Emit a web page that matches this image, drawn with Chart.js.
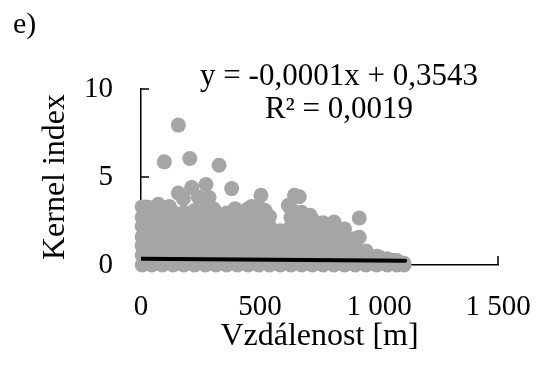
<!DOCTYPE html>
<html lang="cs">
<head>
    <meta charset="UTF-8">
    <title>Kernel index</title>
    <script src="https://cdn.jsdelivr.net/npm/chart.js"></script>
    <style>
        html, body { margin: 0; padding: 0; background: #fff; }
        #wrap { width: 539px; height: 365px; }
    </style>
</head>
<body>
<div id="wrap"><canvas id="kernelChart" width="539" height="365"></canvas></div>

<script>
    // odlehlé body (vzdálenost v m, kernel index)
    const outlierX = [157, 98, 205, 328, 381, 273, 213, 157, 286, 24, 73, 119, 178, 241, 304, 395, 465, 504, 521, 619, 645, 665, 710, 811, 917, 917, 885, 941, 1001, 1060, 717, 570];
    const outlierY = [7.95, 5.86, 6.05, 5.67, 4.34, 4.57, 4.4, 4.09, 3.83, 3.3, 3.45, 3.33, 3.77, 3.86, 3.2, 3.2, 3.33, 3.96, 3.1, 3.39, 3.96, 3.88, 2.82, 2.44, 2.67, 1.58, 1.3, 0.73, 0.45, 0.26, 1.97, 1.87];

    // husté mračno bodů u nuly - sloupce podle vzdálenosti
    const cloudX = [5, 45, 90, 135, 180, 225, 270, 315, 360, 405, 450, 495, 540, 585, 630, 675, 720, 765, 810, 855, 900, 945, 990, 1035, 1075, 1105];
    const cloudY = [
        [0, 0.55, 1.1, 1.6, 2.2, 2.7, 3.3],
        [0, 0.55, 1.1, 1.65, 2.2, 2.75, 3.25],
        [0, 0.5, 1.1, 1.6, 2.2, 2.7, 3.2],
        [0, 0.55, 1.1, 1.65, 2.2, 2.7, 3.0],
        [0, 0.55, 1.1, 1.6, 2.15, 2.7, 3.0],
        [0, 0.5, 1.05, 1.6, 2.2, 2.75, 3.1],
        [0, 0.55, 1.1, 1.65, 2.2, 2.7, 3.15],
        [0, 0.55, 1.1, 1.6, 2.2, 2.7, 3.0],
        [0, 0.55, 1.1, 1.65, 2.2, 2.65, 2.95],
        [0, 0.5, 1.1, 1.6, 2.15, 2.7, 3.1],
        [0, 0.55, 1.1, 1.65, 2.2, 2.7, 3.2],
        [0, 0.55, 1.1, 1.6, 2.2, 2.75, 3.3],
        [0, 0.55, 1.1, 1.6, 2.2, 2.75],
        [0, 0.55, 1.1, 1.6, 1.95],
        [0, 0.55, 1.1, 1.65, 2.2, 2.7, 3.2],
        [0, 0.55, 1.1, 1.6, 2.15, 2.7, 3.0],
        [0, 0.55, 1.1, 1.65, 2.2, 2.6],
        [0, 0.5, 1.05, 1.6, 2.1, 2.4],
        [0, 0.55, 1.1, 1.6, 2.0, 2.3],
        [0, 0.55, 1.1, 1.6, 2.05],
        [0, 0.5, 1.0, 1.5],
        [0, 0.4, 0.8],
        [0, 0.5],
        [0, 0.35],
        [0, 0.25],
        [0, 0.1]
    ];

    // lineární trend
    const trendX = [0, 1110];
    const trendY = [0.354, 0.243];

    const xTickLabels = ['0', '500', '1 000', '1 500'];
    const yTickLabels = ['0', '5', '10'];
    const equationLines = ['y = -0,0001x + 0,3543', 'R² = 0,0019'];
    const panelLabel = 'e)';

    const serif = '"Liberation Serif", "Times New Roman", serif';

    const points = [];
    outlierX.forEach((x, i) => points.push({ x: x, y: outlierY[i] }));
    cloudX.forEach((x, i) => cloudY[i].forEach(y => points.push({ x: x, y: y })));

    const trendPoints = trendX.map((x, i) => ({ x: x, y: trendY[i] }));

    // vnitřní značky os + texty rovnice
    const extras = {
        id: 'extras',
        beforeDatasetsDraw(chart) {
            const { ctx, chartArea, scales } = chart;
            ctx.save();
            ctx.strokeStyle = '#000';
            ctx.lineWidth = 1.5;
            [5, 10].forEach(v => {
                const py = scales.y.getPixelForValue(v);
                ctx.beginPath();
                ctx.moveTo(chartArea.left, py);
                ctx.lineTo(chartArea.left + 8, py);
                ctx.stroke();
            });
            [500, 1000, 1500].forEach(v => {
                const px = scales.x.getPixelForValue(v);
                ctx.beginPath();
                ctx.moveTo(px, chartArea.bottom);
                ctx.lineTo(px, chartArea.bottom - 9);
                ctx.stroke();
            });
            ctx.restore();
        },
        afterDraw(chart) {
            const ctx = chart.ctx;
            ctx.save();
            ctx.fillStyle = '#000';
            ctx.font = '31px ' + serif;
            ctx.textAlign = 'center';
            ctx.textBaseline = 'alphabetic';
            ctx.fillText(equationLines[0], 339, 85);
            ctx.fillText(equationLines[1], 339, 118);
            ctx.font = '30px ' + serif;
            ctx.textAlign = 'left';
            ctx.fillText(panelLabel, 13, 33);
            ctx.restore();
        }
    };

    new Chart(document.getElementById('kernelChart'), {
        type: 'scatter',
        data: {
            datasets: [
                {
                    label: 'trend',
                    data: trendPoints,
                    showLine: true,
                    borderColor: '#000',
                    borderWidth: 4,
                    borderCapStyle: 'round',
                    pointRadius: 0,
                    order: 0
                },
                {
                    label: 'Kernel index',
                    data: points,
                    backgroundColor: '#A5A5A5',
                    borderWidth: 0,
                    pointRadius: 7.5,
                    pointHoverRadius: 7.5,
                    clip: false,
                    order: 1
                }
            ]
        },
        options: {
            responsive: false,
            animation: false,
            layout: { padding: { top: 89, right: 41, bottom: 0, left: 0 } },
            plugins: {
                legend: { display: false },
                tooltip: { enabled: false }
            },
            scales: {
                x: {
                    type: 'linear',
                    min: 0,
                    max: 1500,
                    grid: { display: false, drawTicks: false },
                    border: { display: true, color: '#000', width: 1.5 },
                    ticks: {
                        stepSize: 500,
                        padding: 25,
                        color: '#000',
                        maxRotation: 0,
                        font: { family: serif, size: 29 },
                        callback: (v, i) => xTickLabels[i]
                    },
                    title: {
                        display: true,
                        text: 'Vzdálenost [m]',
                        color: '#000',
                        font: { family: serif, size: 32 },
                        padding: { top: 0, bottom: 9 }
                    },
                    afterFit: s => {
                        s.height = 100;
                        s.paddingLeft = 0;
                        s.paddingRight = 0;
                    }
                },
                y: {
                    min: 0,
                    max: 10,
                    grid: { display: false, drawTicks: false },
                    border: { display: true, color: '#000', width: 1.5 },
                    ticks: {
                        stepSize: 5,
                        padding: 28,
                        color: '#000',
                        font: { family: serif, size: 29 },
                        callback: (v, i) => yTickLabels[i]
                    },
                    title: {
                        display: true,
                        text: 'Kernel index',
                        color: '#000',
                        font: { family: serif, size: 32 },
                        padding: { top: 36, bottom: 0 }
                    },
                    afterFit: s => {
                        s.width = 141;
                        s.paddingTop = 0;
                        s.paddingBottom = 0;
                    }
                }
            }
        },
        plugins: [extras]
    });
</script>
</body>
</html>
